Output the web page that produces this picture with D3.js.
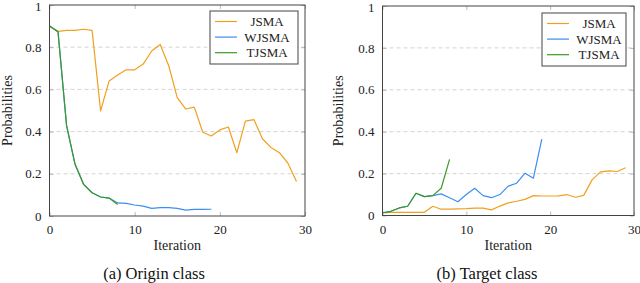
<!DOCTYPE html>
<html>
<head>
<meta charset="utf-8">
<script src="https://cdn.jsdelivr.net/npm/d3@7"></script>
<style>
  html, body { margin: 0; padding: 0; background: #fff; }
  svg { display: block; }
</style>
</head>
<body>
<svg id="chart" width="640" height="283"></svg>
<script>
// ---- data ----
const seriesNames = ["JSMA", "WJSMA", "TJSMA"];
const seriesColors = ["#f0a01e", "#3a8ff0", "#3c9a22"];
const xTicks = [0, 10, 20, 30];
const yTicks = [0, 0.2, 0.4, 0.6, 0.8, 1];
const yTickLabels = ["0", "0.2", "0.4", "0.6", "0.8", "1"];

// (a) Origin class
const originJSMA = [0.9, 0.875, 0.88, 0.88, 0.885, 0.88, 0.498, 0.64, 0.668, 0.693, 0.693, 0.72, 0.782, 0.813, 0.712, 0.561, 0.507, 0.516, 0.397, 0.379, 0.408, 0.422, 0.30, 0.45, 0.457, 0.366, 0.325, 0.30, 0.25, 0.163];
const originWJSMA = [0.9, 0.873, 0.43, 0.245, 0.15, 0.11, 0.09, 0.085, 0.062, 0.06, 0.052, 0.047, 0.036, 0.04, 0.04, 0.036, 0.028, 0.031, 0.031, 0.032];
const originTJSMA = [0.9, 0.873, 0.43, 0.245, 0.15, 0.11, 0.09, 0.085, 0.055];

// (b) Target class
const targetJSMA = [0.013, 0.015, 0.015, 0.015, 0.015, 0.015, 0.044, 0.03, 0.03, 0.032, 0.033, 0.035, 0.035, 0.027, 0.045, 0.06, 0.068, 0.077, 0.095, 0.093, 0.093, 0.094, 0.1, 0.087, 0.096, 0.17, 0.208, 0.213, 0.21, 0.228];
const targetWJSMA = [0.013, 0.02, 0.036, 0.044, 0.106, 0.09, 0.095, 0.103, 0.085, 0.066, 0.1, 0.13, 0.095, 0.085, 0.1, 0.14, 0.154, 0.202, 0.178, 0.365];
const targetTJSMA = [0.013, 0.02, 0.036, 0.044, 0.106, 0.09, 0.095, 0.13, 0.268];

const captions = ["(a) Origin class", "(b) Target class"];
const xLabel = "Iteration";
const yLabel = "Probabilities";

// ---- layout ----
const panels = [
  { x0: 49.5, x1: 305, y0: 216, y1: 5, series: [originJSMA, originWJSMA, originTJSMA],
    legend: { x: 210, y: 11, w: 88, h: 53 }, ylabX: 7, capX: 154 },
  { x0: 382.5, x1: 634, y0: 215.5, y1: 6, series: [targetJSMA, targetWJSMA, targetTJSMA],
    legend: { x: 542, y: 13, w: 84, h: 53 }, ylabX: 338, capX: 487 }
];

const FONT = "Liberation Serif";
const svg = d3.select("#chart");

panels.forEach((p, pi) => {
  const x = d3.scaleLinear().domain([0, 30]).range([p.x0, p.x1]);
  const y = d3.scaleLinear().domain([0, 1]).range([p.y0, p.y1]);
  const g = svg.append("g").attr("font-family", FONT);

  // grid
  g.selectAll("line.grid").data([0.2, 0.4, 0.6, 0.8]).enter().append("line")
    .attr("x1", p.x0).attr("x2", p.x1)
    .attr("y1", d => y(d)).attr("y2", d => y(d))
    .attr("stroke", "#cfcfcf").attr("stroke-width", 0.9)
    .attr("stroke-dasharray", "4,3");

  // axes (inward ticks on all sides)
  const fmtY = d => yTickLabels[yTicks.indexOf(d)];
  const bottom = g.append("g").attr("transform", `translate(0,${p.y0})`)
    .call(d3.axisBottom(x).tickValues(xTicks).tickSize(-4).tickPadding(9).tickFormat(d3.format("d")));
  const top = g.append("g").attr("transform", `translate(0,${p.y1})`)
    .call(d3.axisTop(x).tickValues(xTicks).tickSize(-4).tickFormat(""));
  const left = g.append("g").attr("transform", `translate(${p.x0},0)`)
    .call(d3.axisLeft(y).tickValues(yTicks).tickSize(-4).tickPadding(8).tickFormat(fmtY));
  const right = g.append("g").attr("transform", `translate(${p.x1},0)`)
    .call(d3.axisRight(y).tickValues(yTicks).tickSize(-4).tickFormat(""));
  [bottom, top, left, right].forEach(a => {
    a.attr("font-family", FONT).attr("font-size", 13);
    a.select(".domain").remove();
    a.selectAll(".tick line").attr("stroke", "#aaa").attr("stroke-width", 0.8);
    a.selectAll("text").attr("font-family", FONT).attr("font-size", 13).attr("fill", "#222");
  });
  // keep the top "1" label inside the picture
  left.selectAll(".tick").filter(d => d === 1).select("text").attr("dy", "0.45em");

  // lines
  const line = d3.line().x((d, i) => x(i)).y(d => y(d));
  p.series.forEach((s, si) => {
    g.append("path").datum(s)
      .attr("d", line)
      .attr("fill", "none")
      .attr("stroke", seriesColors[si])
      .attr("stroke-width", 1.2)
      .attr("stroke-linejoin", "round");
  });

  // frame
  g.append("rect").attr("x", p.x0).attr("y", p.y1)
    .attr("width", p.x1 - p.x0).attr("height", p.y0 - p.y1)
    .attr("fill", "none").attr("stroke", "#444").attr("stroke-width", 1);

  // legend
  const L = p.legend;
  g.append("rect").attr("x", L.x).attr("y", L.y).attr("width", L.w).attr("height", L.h)
    .attr("fill", "#fff").attr("stroke", "#444").attr("stroke-width", 1);
  seriesNames.forEach((name, si) => {
    const cy = L.y + 10.5 + si * 15.6;
    g.append("line").attr("x1", L.x + 5).attr("x2", L.x + 27)
      .attr("y1", cy).attr("y2", cy)
      .attr("stroke", seriesColors[si]).attr("stroke-width", 1.2);
    g.append("text").attr("x", L.x + 57).attr("y", cy).attr("dy", "0.35em")
      .attr("text-anchor", "middle").attr("font-size", 13).attr("fill", "#222").text(name);
  });

  // axis labels
  g.append("text").attr("x", (p.x0 + p.x1) / 2).attr("y", 245).attr("dy", "0.35em")
    .attr("text-anchor", "middle").attr("font-size", 14).attr("fill", "#222").text(xLabel);
  g.append("text").attr("transform", `translate(${p.ylabX},${(p.y0 + p.y1) / 2}) rotate(-90)`)
    .attr("dy", "0.35em").attr("text-anchor", "middle").attr("font-size", 14).attr("fill", "#222").text(yLabel);

  // caption
  g.append("text").attr("x", p.capX).attr("y", 273).attr("dy", "0.35em")
    .attr("text-anchor", "middle").attr("font-size", 16.5).attr("fill", "#111").text(captions[pi]);
});
</script>
</body>
</html>
